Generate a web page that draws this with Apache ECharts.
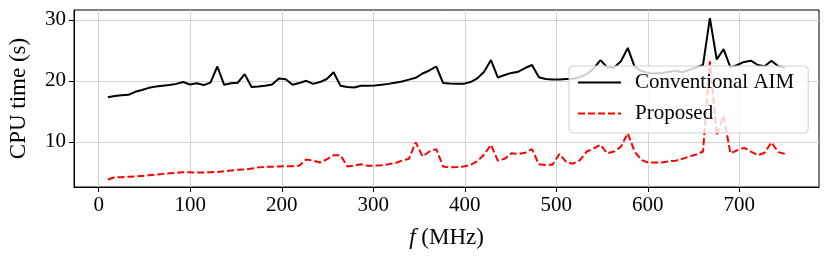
<!DOCTYPE html>
<html>
<head>
<meta charset="utf-8">
<script src="https://cdn.jsdelivr.net/npm/echarts@6/dist/echarts.min.js"></script>
<style>
html,body{margin:0;padding:0;background:#fff;}
#chart{width:830px;height:260px;}
</style>
</head>
<body>
<div id="chart"></div>
<script>
// Frequency samples (MHz)
var freqs = [10,17.47,24.95,32.42,39.90,47.37,54.85,62.32,69.80,77.27,84.75,92.22,99.70,107.17,114.65,122.12,129.60,137.07,144.55,152.02,
159.49,166.97,174.44,181.92,189.39,196.87,204.34,211.82,219.29,226.77,234.24,241.72,249.19,256.67,264.14,271.62,279.09,286.57,294.04,301.52,
308.99,316.46,323.94,331.41,338.89,346.36,353.84,361.31,368.79,376.26,383.74,391.21,398.69,406.16,413.64,421.11,428.59,436.06,443.54,451.01,
458.48,465.96,473.43,480.91,488.38,495.86,503.33,510.81,518.28,525.76,533.23,540.71,548.18,555.66,563.13,570.61,578.08,585.56,593.03,600.51,
607.98,615.45,622.93,630.40,637.88,645.35,652.83,660.30,667.78,675.25,682.73,690.20,697.68,705.15,712.63,720.10,727.58,735.05,742.53,750];

// CPU time (s), Conventional AIM
var conventional = [17.3,17.5,17.65,17.7,18.2,18.5,18.85,19.05,19.2,19.3,19.5,19.8,19.4,19.6,19.3,19.7,22.35,19.35,19.6,19.7,
21.1,19.0,19.05,19.2,19.4,20.4,20.25,19.35,19.65,20.0,19.5,19.8,20.3,21.4,19.2,19.0,18.9,19.2,19.2,19.25,
19.35,19.5,19.7,19.9,20.2,20.5,21.2,21.7,22.35,19.65,19.55,19.5,19.5,19.8,20.4,21.5,23.4,20.55,20.95,21.3,
21.5,22.1,22.6,20.6,20.3,20.2,20.2,20.3,20.35,20.6,21.1,22.0,23.4,22.2,22.2,23.2,25.4,22.3,21.6,21.3,
21.2,21.3,21.5,21.6,21.4,21.8,22.2,22.6,30.3,23.5,25.2,22.2,22.6,23.1,23.3,22.6,22.4,23.3,22.4,22.2];

// CPU time (s), Proposed
var proposed = [3.8,4.2,4.2,4.25,4.3,4.4,4.5,4.6,4.7,4.85,4.9,5.0,5.0,4.95,4.97,5.0,5.05,5.15,5.3,5.4,
5.45,5.6,5.8,5.9,5.9,5.95,6.0,6.0,6.1,7.1,6.9,6.6,7.1,7.8,7.8,5.95,6.1,6.3,6.05,6.1,
6.15,6.3,6.5,6.9,7.2,9.9,7.6,8.4,8.8,5.95,5.8,5.85,5.95,6.2,6.8,7.9,9.5,6.9,7.2,8.1,
8.0,8.2,8.8,6.3,6.2,6.25,8.0,6.7,6.4,7.0,8.4,8.9,9.5,8.1,8.4,9.2,11.4,8.4,7.0,6.6,
6.6,6.6,6.8,6.9,7.2,7.6,7.9,8.4,23.2,11.0,14.3,8.1,8.6,9.0,8.4,7.8,8.2,9.9,8.3,8.0];

var xTicks = [0,100,200,300,400,500,600,700];
var yTicks = [10,20,30];
var seriesNames = ['Conventional AIM','Proposed'];

function pairs(xs, ys){ return xs.map(function(x,i){ return [x, ys[i]]; }); }

var FONT = 'Liberation Serif';
var FS = 21;
var NFS = 23;
var chart = echarts.init(document.getElementById('chart'), null, {renderer:'canvas'});
chart.setOption({
  animation:false,
  backgroundColor:'#fff',
  grid:{left:74,top:10,width:745,height:177,show:true,borderColor:'#000',borderWidth:1,backgroundColor:'transparent',
        containLabel:false,outerBoundsMode:'none'},
  xAxis:{
    type:'value', min:-27, max:787,
    axisLine:{show:true,onZero:false,lineStyle:{color:'#000',width:1}},
    axisTick:{show:true,length:5,customValues:xTicks,lineStyle:{color:'#000',width:1}},
    axisLabel:{customValues:xTicks,color:'#000',fontFamily:FONT,fontSize:FS,margin:8},
    splitLine:{show:true,lineStyle:{color:'#d2d2d2',width:1}},
    name:'{i|f} (MHz)', nameLocation:'middle', nameGap:39,
    nameTextStyle:{color:'#000',fontFamily:FONT,fontSize:NFS,rich:{i:{fontStyle:'italic',fontFamily:FONT,fontSize:NFS,color:'#000'}}}
  },
  yAxis:{
    type:'value', min:2.58, max:31.62,
    axisLine:{show:true,onZero:false,lineStyle:{color:'#000',width:1}},
    axisTick:{show:true,length:5,customValues:yTicks,lineStyle:{color:'#000',width:1}},
    axisLabel:{customValues:yTicks,color:'#000',fontFamily:FONT,fontSize:FS,margin:8},
    splitLine:{show:true,lineStyle:{color:'#d2d2d2',width:1}},
    name:'CPU time (s)', nameLocation:'middle', nameGap:44,
    nameTextStyle:{color:'#000',fontFamily:FONT,fontSize:NFS}
  },
  legend:{
    orient:'vertical', left:569, top:66,
    data:seriesNames,
    itemWidth:43, itemHeight:14, itemGap:8,
    padding:[5,14,8,8],
    backgroundColor:'rgba(255,255,255,0.8)',
    borderColor:'rgba(204,204,204,0.9)', borderWidth:1, borderRadius:4,
    itemStyle:{opacity:0,borderWidth:0},
    textStyle:{color:'#000',fontFamily:FONT,fontSize:FS,lineHeight:23,padding:[0,0,0,9]}
  },
  series:[
    {name:seriesNames[0],type:'line',data:pairs(freqs,conventional),showSymbol:false,symbol:'none',
     lineStyle:{color:'#000',width:2},itemStyle:{color:'#000'},z:2},
    {name:seriesNames[1],type:'line',data:pairs(freqs,proposed),showSymbol:false,symbol:'none',
     lineStyle:{color:'#ff0000',width:2,type:[7,3]},itemStyle:{color:'#ff0000'},z:3}
  ]
});
</script>
</body>
</html>
